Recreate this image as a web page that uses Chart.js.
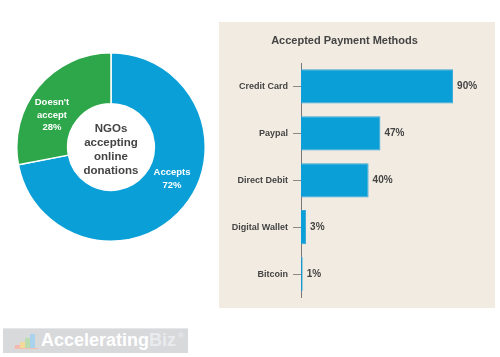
<!DOCTYPE html>
<html><head><meta charset="utf-8">
<script src="https://cdn.jsdelivr.net/npm/chart.js@4"></script>
<style>
html,body{margin:0;padding:0;background:#fff;width:500px;height:357px;overflow:hidden;font-family:"Liberation Sans",Arial,sans-serif;}
#donut{position:absolute;left:16px;top:52px;}
#bars{position:absolute;left:219px;top:22px;background:#f2ebe1;}
#logo{position:absolute;left:3px;top:328px;width:185px;height:25px;background:#d8d9db;border-top:1px solid #e6e7e9;box-sizing:border-box;}
#logo .t{position:absolute;left:38px;top:1px;font:bold 18px "Liberation Sans",Arial,sans-serif;color:#fff;}
#logo .t span{color:#e9ebee;}
#logo .r{font-size:8px;vertical-align:top;position:relative;top:1px;margin-left:2px;}
.ic{position:absolute;bottom:5px;width:5px;}
</style></head><body>
<canvas id="donut" width="190" height="190"></canvas>
<canvas id="bars" width="276" height="286"></canvas>
<div id="logo">
  <div style="position:absolute;left:11px;bottom:4px;width:24px;height:1px;background:#f0c0b0;"></div>
  <div class="ic" style="left:12px;height:3px;background:#f2b8b0;"></div>
  <div class="ic" style="left:17px;height:6px;background:#f6d89a;"></div>
  <div class="ic" style="left:22px;height:10px;background:#b9dcb0;"></div>
  <div class="ic" style="left:27px;height:14px;background:#a9d3ec;"></div>
  <div class="t">Accelerating<span>Biz</span><span class="r">®</span></div>
</div>
<script>
const donutLabels = [["Accepts","72%"],["Doesn't","accept","28%"]];
const donutValues = [72, 28];
const centerText = ["NGOs","accepting","online","donations"];
const categories = ["Credit Card","Paypal","Direct Debit","Digital Wallet","Bitcoin"];
const values = [90, 47, 40, 3, 1];
const valueLabels = ["90%","47%","40%","3%","1%"];

const donutText = {
  id:'donutText',
  afterDatasetsDraw(chart){
    const ctx = chart.ctx;
    const meta = chart.getDatasetMeta(0);
    const offs = [[8,-12],[-6,12]];
    ctx.save();
    ctx.fillStyle = '#fff';
    ctx.textAlign = 'center';
    ctx.textBaseline = 'middle';
    ctx.font = 'bold 9.5px "Liberation Sans", Arial, sans-serif';
    meta.data.forEach((arc,i)=>{
      const p = arc.tooltipPosition();
      const lines = donutLabels[i];
      const lh = 12.5;
      const x = p.x + offs[i][0], y0 = p.y + offs[i][1] - (lines.length-1)*lh/2;
      lines.forEach((l,j)=>ctx.fillText(l, x, y0 + j*lh));
    });
    const a = meta.data[0];
    ctx.fillStyle = '#444';
    ctx.font = 'bold 11.5px "Liberation Sans", Arial, sans-serif';
    const lh = 13.8;
    const y0 = a.y + 3 - (centerText.length-1)*lh/2;
    centerText.forEach((l,j)=>ctx.fillText(l, a.x, y0 + j*lh));
    ctx.restore();
  }
};

new Chart(document.getElementById('donut'), {
  type:'doughnut',
  data:{labels:["Accepts","Doesn't accept"], datasets:[{data:donutValues, backgroundColor:['#0a9fd7','#2ea64a'], borderColor:'#fff', borderWidth:1.5}]},
  options:{responsive:false, animation:false, cutout:'46%', layout:{padding:0},
    plugins:{legend:{display:false}, tooltip:{enabled:false}}},
  plugins:[donutText]
});

const barText = {
  id:'barText',
  afterDatasetsDraw(chart){
    const ctx = chart.ctx;
    const meta = chart.getDatasetMeta(0);
    ctx.save();
    ctx.fillStyle = '#444';
    ctx.textAlign = 'left';
    ctx.textBaseline = 'middle';
    ctx.font = 'bold 10px "Liberation Sans", Arial, sans-serif';
    meta.data.forEach((b,i)=>ctx.fillText(valueLabels[i], b.x + 4, b.y));
    ctx.restore();
  }
};

new Chart(document.getElementById('bars'), {
  type:'bar',
  data:{labels:categories, datasets:[{data:values, backgroundColor:'#0a9fd7', borderColor:'#3aa6d6', borderWidth:1, barPercentage:0.73, categoryPercentage:1}]},
  options:{responsive:false, animation:false, indexAxis:'y',
    layout:{padding:{left:0,right:25,top:0,bottom:6}},
    scales:{
      x:{display:false, min:0, max:100},
      y:{afterFit(s){s.width=82;},
         grid:{offset:false, drawOnChartArea:false, tickLength:8, color:'#888'},
         border:{color:'#777', width:1},
         ticks:{color:'#444', padding:5, font:{family:'"Liberation Sans", Arial, sans-serif', size:9, weight:'bold'}}}
    },
    plugins:{legend:{display:false}, tooltip:{enabled:false},
      title:{display:true, text:'Accepted Payment Methods', color:'#444',
        font:{family:'"Liberation Sans", Arial, sans-serif', size:11, weight:'bold'},
        padding:{top:12.4,bottom:15.4}}}
  },
  plugins:[barText]
});
</script>
</body></html>
